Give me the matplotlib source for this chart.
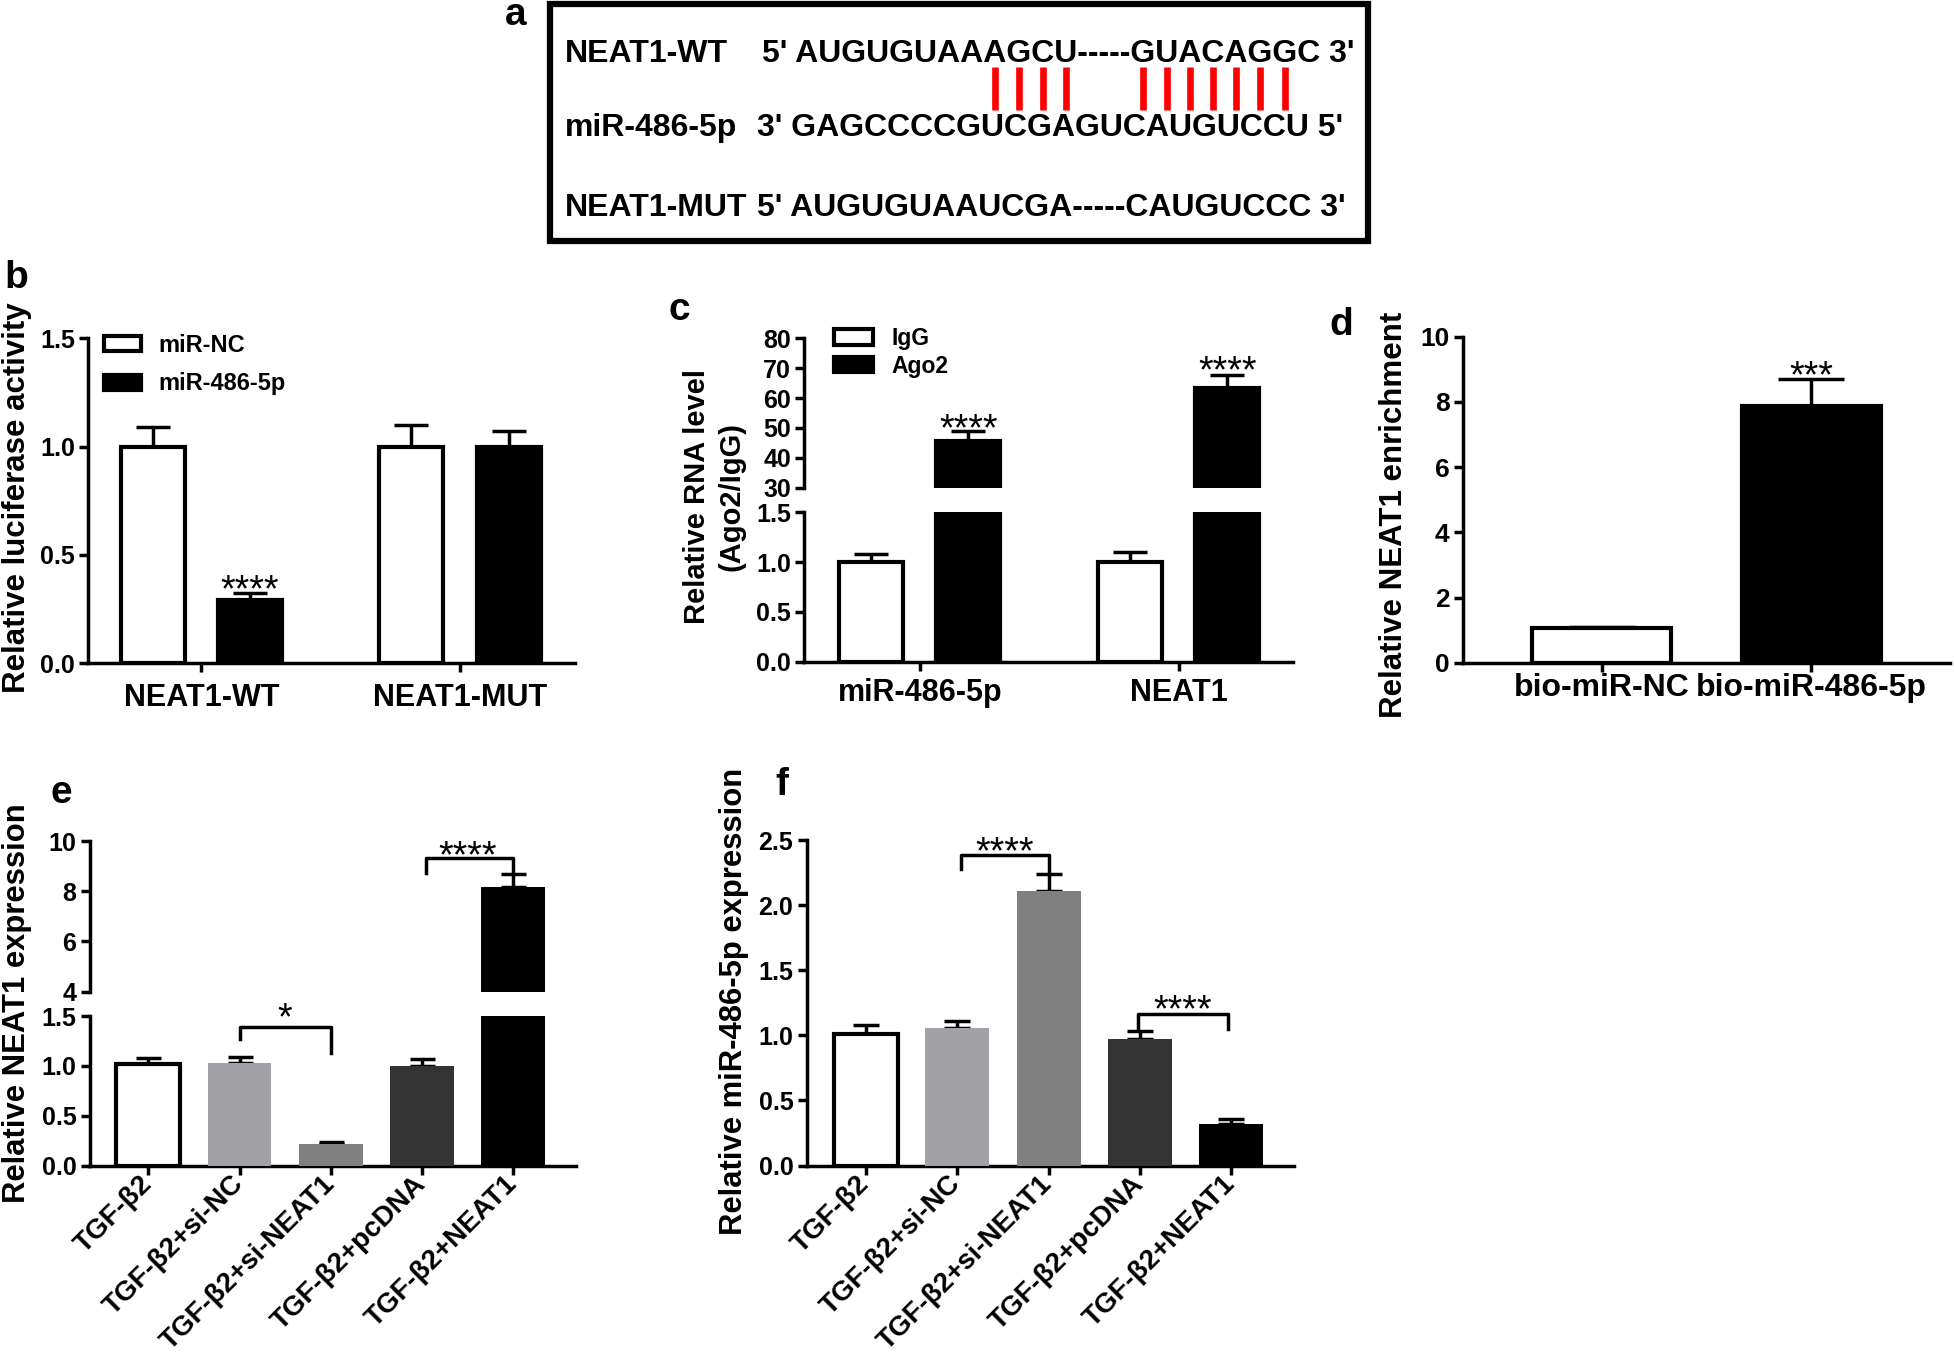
import numpy as np
import matplotlib
matplotlib.use("Agg")
import matplotlib.pyplot as plt
from matplotlib.patches import Rectangle
from matplotlib.lines import Line2D

plt.rcParams['font.family'] = ['Liberation Sans', 'DejaVu Sans']
plt.rcParams['font.weight'] = 'bold'
plt.rcParams['axes.labelweight'] = 'bold'
plt.rcParams['axes.linewidth'] = 2.5

W, H = 1954, 1356

# ---- data ----
# a: binding site
seq_names = ['NEAT1-WT', 'miR-486-5p', 'NEAT1-MUT']
seq_text = ["5' AUGUGUAAAGCU-----GUACAGGC 3'",
            "3' GAGCCCCGUCGAGUCAUGUCCU 5'",
            "5' AUGUGUAAUCGA-----CAUGUCCC 3'"]
pair_idx = [11, 12, 13, 14, 20, 21, 22, 23, 24, 25, 26]   # paired bases in WT

# b: luciferase
b_groups = ['NEAT1-WT', 'NEAT1-MUT']
b_series = ['miR-NC', 'miR-486-5p']
b_nc = [1.00, 1.00]
b_nc_err = [0.09, 0.10]
b_mir = [0.29, 1.00]
b_mir_err = [0.033, 0.072]

# c: RIP
c_groups = ['miR-486-5p', 'NEAT1']
c_series = ['IgG', 'Ago2']
c_igg = [1.00, 1.00]
c_igg_err = [0.084, 0.10]
c_ago2 = [45.7, 63.3]
c_ago2_err = [3.3, 4.3]

# d: pull-down
d_labels = ['bio-miR-NC', 'bio-miR-486-5p']
d_vals = [1.05, 7.88]
d_err = [0.03, 0.82]

# e, f
ef_labels = ['TGF-β2', 'TGF-β2+si-NC', 'TGF-β2+si-NEAT1', 'TGF-β2+pcDNA', 'TGF-β2+NEAT1']
e_vals = [1.02, 1.03, 0.22, 1.00, 8.18]
e_err = [0.065, 0.065, 0.02, 0.075, 0.53]
f_vals = [1.01, 1.06, 2.11, 0.97, 0.32]
f_err = [0.07, 0.05, 0.13, 0.06, 0.036]
ef_colors = ['white', '#a2a2a6', '#808080', '#333333', 'black']

fig = plt.figure(figsize=(W / 100, H / 100), dpi=100)


def add_ax(x0, x1, ytop, ybot):
    return fig.add_axes([x0 / W, 1 - ybot / H, (x1 - x0) / W, (ybot - ytop) / H])


def style(ax, bottom=True):
    ax.set_facecolor('none')
    ax.spines['top'].set_visible(False)
    ax.spines['right'].set_visible(False)
    ax.tick_params(width=2.5, length=6.5, labelsize=18, pad=3)
    if not bottom:
        ax.spines['bottom'].set_visible(False)
        ax.tick_params(axis='x', bottom=False, labelbottom=False)


def yticks(ax, ticks, fmt):
    ax.set_yticks(ticks)
    ax.set_yticklabels([fmt.format(t) for t in ticks])


def errs(ax, x, vals, err, cap):
    ax.errorbar(x, vals, yerr=[np.zeros(len(vals)), err], fmt='none', ecolor='black',
                elinewidth=2.5, capsize=cap, capthick=2.5, zorder=2)


def stars(ax, x, y, s, fs=27):
    ax.annotate(s, xy=(x, y), xytext=(0, -0.58 * fs), textcoords='offset points',
                ha='center', va='baseline', fontsize=fs, fontweight='normal',
                annotation_clip=False)


def bracket(ax, x1, x2, y, y1, y2):
    ax.plot([x1, x1, x2, x2], [y1, y, y, y2], color='black', lw=2.5, clip_on=False)


def ylab(ax, text, xc, yc, fs):
    ax.set_ylabel(text, fontsize=fs, va='center', fontweight='bold')
    ax.yaxis.set_label_coords(xc / W, 1 - yc / H, transform=fig.transFigure)


# ---- panel a ----
fig.patches.append(Rectangle((550 / W, 1 - 241 / H), (1368 - 550) / W, (241 - 4) / H,
                             transform=fig.transFigure, fill=False, lw=4.5, ec='black'))
row_base = [62, 136, 216]
seq_x = [762, 757, 757]
seq_artists = []
for name, seq, yb, sx in zip(seq_names, seq_text, row_base, seq_x):
    fig.text(565 / W, 1 - yb / H, name, fontsize=23, va='baseline', ha='left')
    seq_artists.append(fig.text(sx / W, 1 - yb / H, seq, fontsize=23, va='baseline', ha='left'))

renderer = fig.canvas.get_renderer()
fp = seq_artists[0].get_fontproperties()


def tw(s):
    return renderer.get_text_width_height_descent(s, fp, ismath=False)[0] if s else 0.0


wt = seq_text[0]
for i in pair_idx:
    xc = seq_x[0] + (tw(wt[:i]) + tw(wt[:i + 1])) / 2
    fig.add_artist(Line2D([xc / W, xc / W], [1 - 67 / H, 1 - 110 / H], transform=fig.transFigure,
                          color='#ff0000', lw=4.8, solid_capstyle='butt'))

# ---- panel b ----
axb = add_ax(88.4, 574.5, 338.3, 663.3)
style(axb)
xb = np.arange(len(b_groups))
wb = 0.247
h1 = axb.bar(xb - 0.188, b_nc, wb, color='white', edgecolor='black', lw=3, zorder=3)
h2 = axb.bar(xb + 0.188, b_mir, wb, color='black', edgecolor='black', lw=3, zorder=3)
errs(axb, xb - 0.188, b_nc, b_nc_err, 12)
errs(axb, xb + 0.188, b_mir, b_mir_err, 12)
axb.set_xlim(-0.436, 1.442)
axb.set_ylim(0, 1.5)
yticks(axb, [0, 0.5, 1.0, 1.5], '{:.1f}')
axb.set_xticks(xb)
axb.set_xticklabels(b_groups, fontsize=22)
axb.tick_params(axis='x', pad=8)
stars(axb, xb[0] + 0.188, 0.385, '****')
axb.legend([h1, h2], b_series, loc='upper left', bbox_to_anchor=(104 / W, 1 - 334 / H),
           bbox_transform=fig.transFigure, frameon=False, fontsize=17, handlelength=1.55,
           handleheight=0.6, handletextpad=0.75, labelspacing=0.65, borderpad=0, borderaxespad=0)
ylab(axb, 'Relative luciferase activity', 17, 498, 22.5)

# ---- panel c ----
axc_lo = add_ax(804.3, 1293, 512.3, 661.7)
axc_hi = add_ax(804.3, 1293, 338.3, 487.7)
style(axc_lo)
style(axc_hi, bottom=False)
xc_ = np.arange(len(c_groups))
wc = 0.247
for ax in (axc_lo, axc_hi):
    hi1 = ax.bar(xc_ - 0.187, c_igg, wc, color='white', edgecolor='black', lw=3, zorder=3)
    hi2 = ax.bar(xc_ + 0.187, c_ago2, wc, color='black', edgecolor='black', lw=3, zorder=3)
    errs(ax, xc_ - 0.187, c_igg, c_igg_err, 12)
    errs(ax, xc_ + 0.187, c_ago2, c_ago2_err, 12)
    ax.set_xlim(-0.446, 1.441)
axc_lo.set_ylim(0, 1.5)
axc_hi.set_ylim(30, 80)
yticks(axc_lo, [0, 0.5, 1.0, 1.5], '{:.1f}')
yticks(axc_hi, [30, 40, 50, 60, 70, 80], '{:g}')
axc_lo.set_xticks(xc_)
axc_lo.set_xticklabels(c_groups, fontsize=22)
axc_lo.tick_params(axis='x', pad=5)
stars(axc_hi, xc_[0] + 0.187, 53.1, '****')
stars(axc_hi, xc_[1] + 0.187, 72.6, '****')
axc_hi.legend([hi1, hi2], c_series, loc='upper left', bbox_to_anchor=(834 / W, 1 - 327 / H),
              bbox_transform=fig.transFigure, frameon=False, fontsize=16.5, handlelength=1.7,
              handleheight=0.65, handletextpad=0.8, labelspacing=0.2, borderpad=0, borderaxespad=0)
fig.text(714 / W, 1 - 497 / H, 'Relative RNA level\n(Ago2/IgG)', rotation=90, ha='center',
         va='center', fontsize=21, linespacing=1.3, multialignment='center')

# ---- panel d ----
axd = add_ax(1462.7, 1950, 336.7, 662.7)
style(axd)
xd = np.arange(len(d_labels))
axd.bar(xd, d_vals, 0.66, color=['white', 'black'], edgecolor='black', lw=3, zorder=3)
errs(axd, xd, d_vals, d_err, 24)
axd.set_xlim(-0.662, 1.66)
axd.set_ylim(0, 10)
yticks(axd, [0, 2, 4, 6, 8, 10], '{:g}')
axd.tick_params(axis='y', labelsize=19)
axd.set_xticks(xd)
axd.set_xticklabels(d_labels, fontsize=23)
axd.tick_params(axis='x', pad=1)
stars(axd, xd[1], 9.13, '***')
ylab(axd, 'Relative NEAT1 enrichment', 1394, 515, 22.5)

# ---- panel e ----
axe_lo = add_ax(89.5, 576, 1016.2, 1165.5)
axe_hi = add_ax(89.5, 576, 841.4, 991.5)
style(axe_lo)
style(axe_hi, bottom=False)
xe = np.arange(len(ef_labels))
for ax in (axe_lo, axe_hi):
    ax.bar(xe, e_vals, 0.70, color=ef_colors, edgecolor='black', lw=[3, 0, 0, 0, 0], zorder=3)
    errs(ax, xe, e_vals, e_err, 9)
    ax.set_xlim(-0.644, 4.687)
axe_lo.set_ylim(0, 1.5)
axe_hi.set_ylim(4, 10)
yticks(axe_lo, [0, 0.5, 1.0, 1.5], '{:.1f}')
yticks(axe_hi, [4, 6, 8, 10], '{:g}')
axe_lo.set_xticks(xe)
axe_lo.set_xticklabels(ef_labels, fontsize=20, rotation=45, ha='right', va='center',
                       rotation_mode='anchor')
axe_lo.tick_params(axis='x', pad=4)
bracket(axe_lo, 1, 2, 1.39, 1.27, 1.135)
stars(axe_lo, 1.5, 1.59, '*')
bracket(axe_hi, 3.04, 4, 9.34, 8.75, 8.71)
stars(axe_hi, 3.5, 9.82, '****')
ylab(axe_lo, 'Relative NEAT1 expression', 17, 1003, 22.3)

# ---- panel f ----
axf = add_ax(806.5, 1293.5, 840.2, 1165.5)
style(axf)
xf = np.arange(len(ef_labels))
axf.bar(xf, f_vals, 0.70, color=ef_colors, edgecolor='black', lw=[3, 0, 0, 0, 0], zorder=3)
errs(axf, xf, f_vals, f_err, 9.5)
axf.set_xlim(-0.648, 4.68)
axf.set_ylim(0, 2.5)
yticks(axf, [0, 0.5, 1.0, 1.5, 2.0, 2.5], '{:.1f}')
axf.set_xticks(xf)
axf.set_xticklabels(ef_labels, fontsize=20, rotation=45, ha='right', va='center',
                    rotation_mode='anchor')
axf.tick_params(axis='x', pad=4)
bracket(axf, 1.04, 2.01, 2.389, 2.28, 2.237)
stars(axf, 1.52, 2.49, '****')
bracket(axf, 2.98, 3.96, 1.162, 1.05, 1.05)
stars(axf, 3.47, 1.277, '****')
ylab(axf, 'Relative miR-486-5p expression', 734, 1001, 22.3)

# ---- panel letters ----
for lab, x, yb in [('a', 505, 25), ('b', 4, 288), ('c', 668, 320),
                   ('d', 1329, 335), ('e', 50, 803), ('f', 775, 795)]:
    fig.text(x / W, 1 - yb / H, lab, fontsize=28, va='baseline', ha='left')

fig.savefig('out.png', dpi=100)
